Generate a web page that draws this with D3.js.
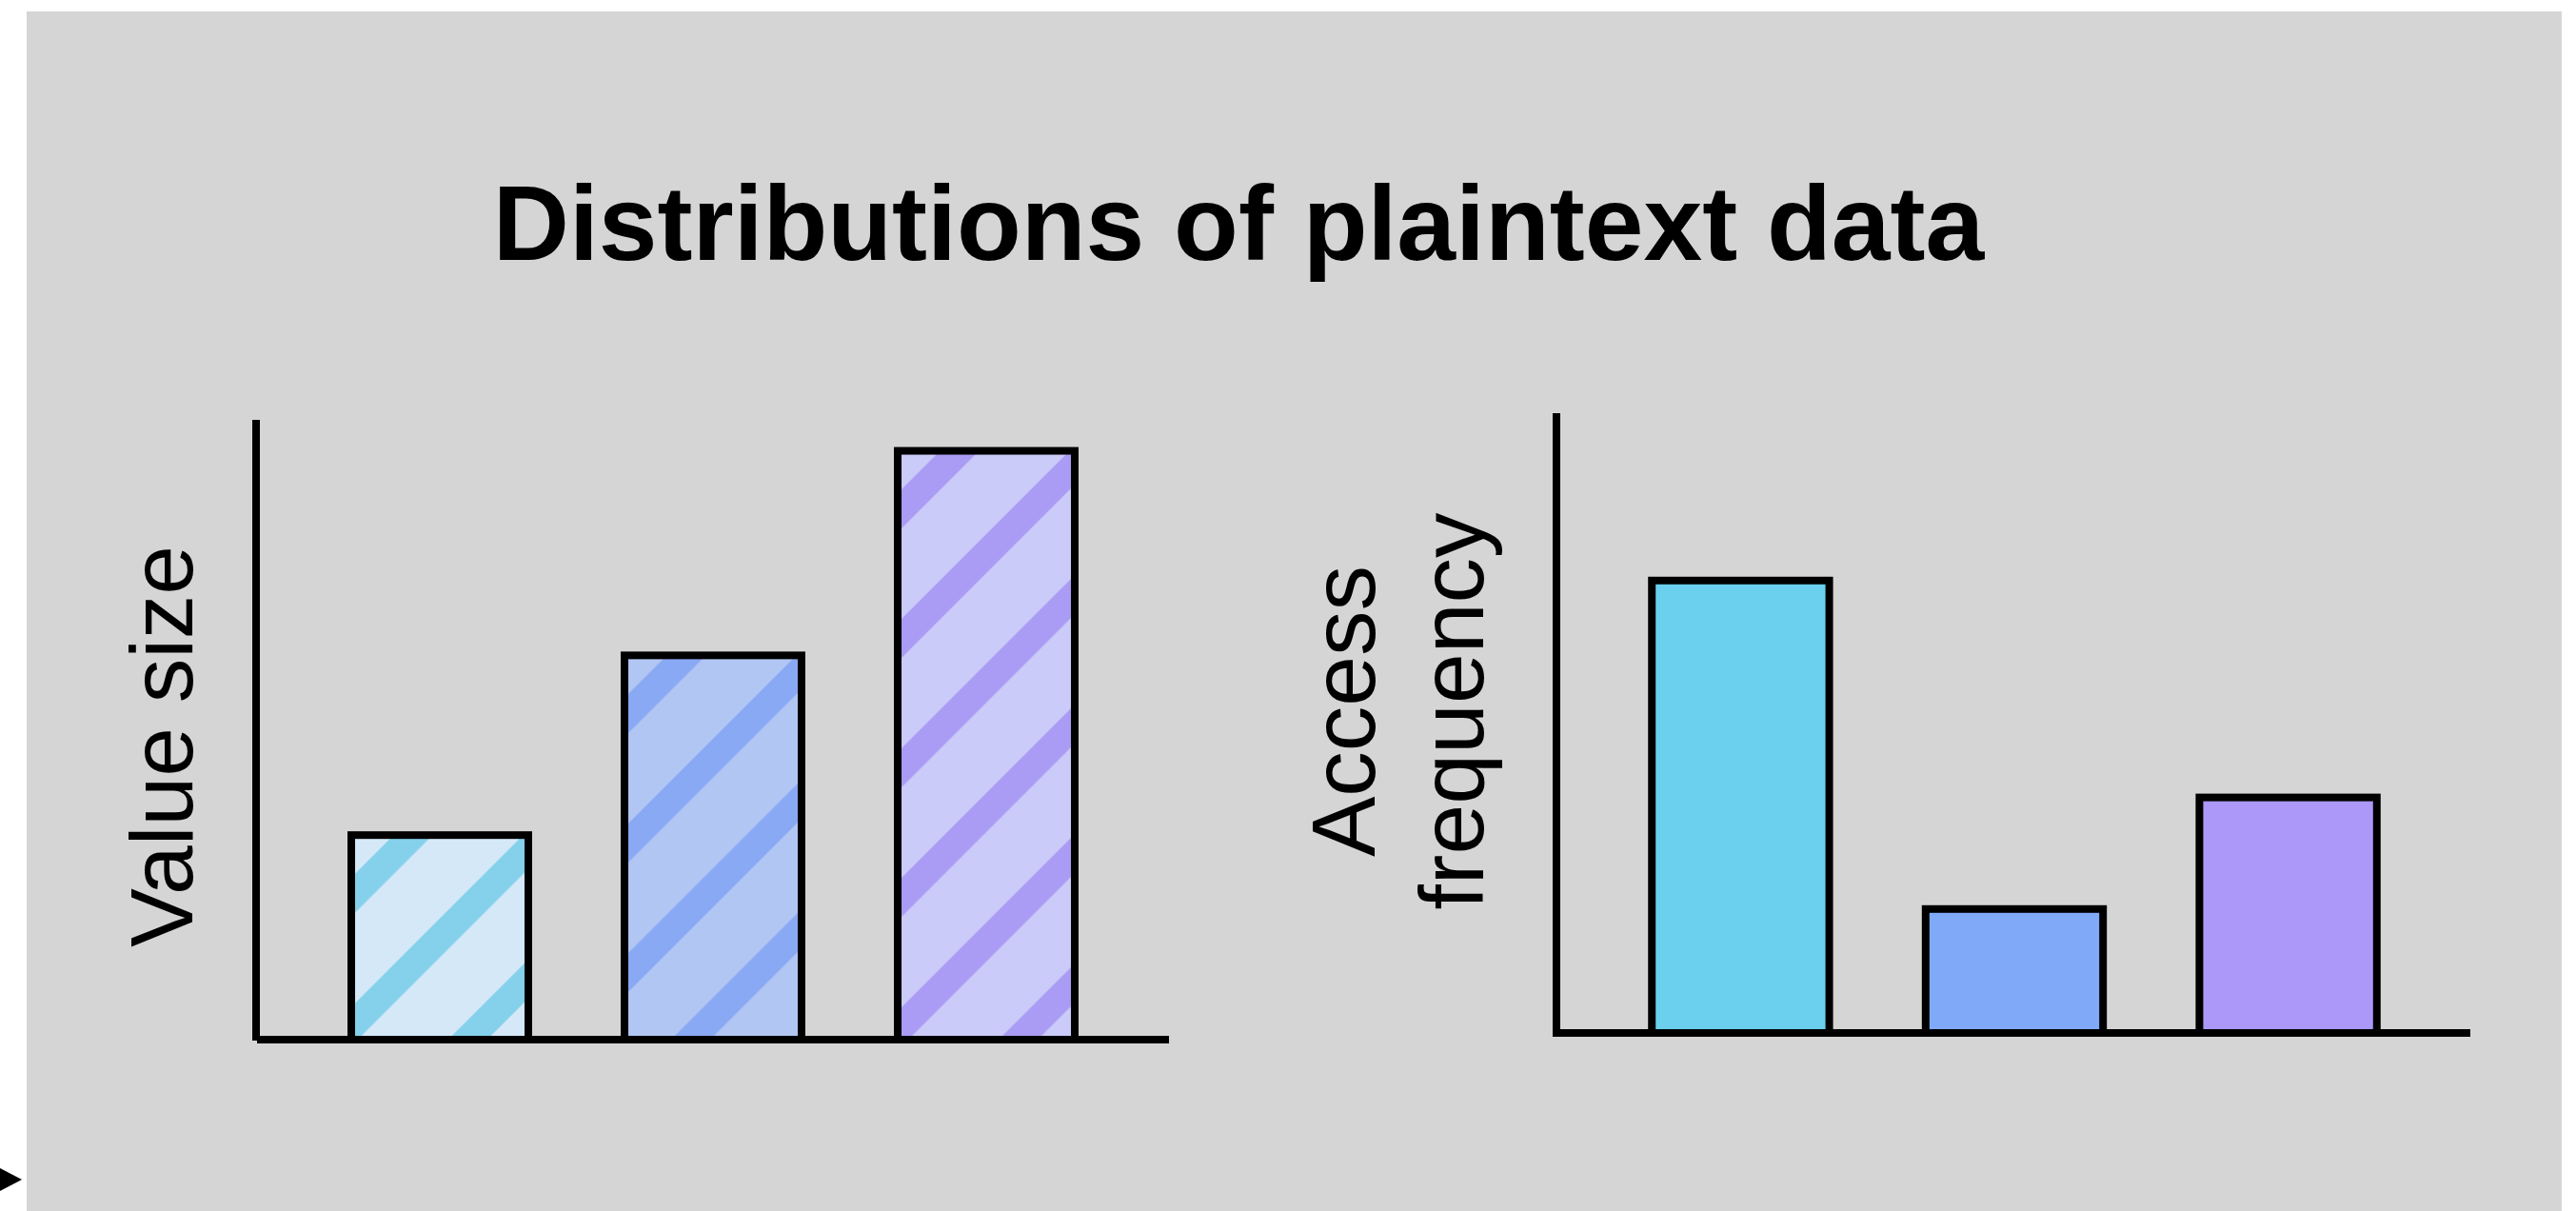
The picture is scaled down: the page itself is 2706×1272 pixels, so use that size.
<!DOCTYPE html>
<html>
<head>
<meta charset="utf-8">
<script src="https://cdn.jsdelivr.net/npm/d3@7"></script>
<style>
  html, body { margin: 0; padding: 0; background: #ffffff; }
  svg { display: block; }
</style>
</head>
<body>
<script>
// Categories and values (relative units, 0–100)
const categories = ["A", "B", "C"];
const valueSize = [33, 62, 95];
const accessFrequency = [73, 20, 38];

// Fill colours
const hatchBase = ["#d5e8f8", "#b2c6f3", "#cbcbf9"];
const hatchStripe = ["#85d1ec", "#8aa9f4", "#aa9bf4"];
const solidFill = ["#6ad0ee", "#80aaf8", "#ab98f8"];

const title = "Distributions of plaintext data";
const leftLabel = ["Value size"];
const rightLabel = ["Access", "frequency"];

const W = 2706, H = 1272;
const svg = d3.select("body").append("svg")
  .attr("width", W).attr("height", H)
  .attr("viewBox", `0 0 ${W} ${H}`);

// Panel background
svg.append("rect")
  .attr("x", 28).attr("y", 12)
  .attr("width", 2663).attr("height", H - 12)
  .attr("fill", "#d5d5d5");

// Small marker at the lower-left edge
svg.append("path")
  .attr("d", "M0,1227 L23,1239 L0,1251 Z")
  .attr("fill", "#000");

// Title
svg.append("text")
  .attr("x", 1301).attr("y", 273)
  .attr("text-anchor", "middle")
  .attr("font-family", "'Liberation Sans', Arial, Helvetica, sans-serif")
  .attr("font-weight", "bold")
  .attr("font-size", 111)
  .attr("fill", "#000")
  .text(title);

const defs = svg.append("defs");
const STROKE = 8;

// Left panel: hatched bars
const xL = d3.scaleBand().domain(categories).range([270, 1228])
  .paddingInner(0.352).paddingOuter(0.345);
const yL = d3.scaleLinear().domain([0, 100]).range([1092, 441]);

// One diagonal-stripe pattern per bar, anchored at the bar's top-left corner
categories.forEach((c, i) => {
  const bx = xL(c), by = yL(valueSize[i]);
  const P = 136;
  const p = defs.append("pattern")
    .attr("id", "hatch" + i)
    .attr("patternUnits", "userSpaceOnUse")
    .attr("x", bx).attr("y", by)
    .attr("width", P).attr("height", P);
  p.append("rect").attr("width", P).attr("height", P).attr("fill", hatchBase[i]);
  [65, 65 + P].forEach(k => {
    p.append("line")
      .attr("x1", -20).attr("y1", k + 20)
      .attr("x2", k + 20).attr("y2", -20)
      .attr("stroke", hatchStripe[i])
      .attr("stroke-width", 29);
  });
});

svg.append("g").selectAll("rect")
  .data(categories)
  .join("rect")
  .attr("x", d => xL(d))
  .attr("y", (d, i) => yL(valueSize[i]))
  .attr("width", xL.bandwidth())
  .attr("height", (d, i) => yL(0) - yL(valueSize[i]))
  .attr("fill", (d, i) => `url(#hatch${i})`)
  .attr("stroke", "#000")
  .attr("stroke-width", STROKE);

// Left axes
svg.append("line")
  .attr("x1", 269).attr("x2", 269)
  .attr("y1", yL.range()[1]).attr("y2", 1093)
  .attr("stroke", "#000").attr("stroke-width", STROKE);
svg.append("line")
  .attr("x1", 270).attr("x2", 1228)
  .attr("y1", yL(0)).attr("y2", yL(0))
  .attr("stroke", "#000").attr("stroke-width", STROKE);

// Right panel: solid bars
const xR = d3.scaleBand().domain(categories).range([1636, 2596])
  .paddingInner(0.352).paddingOuter(0.345);
const yR = d3.scaleLinear().domain([0, 100]).range([1085, 434]);

svg.append("g").selectAll("rect")
  .data(categories)
  .join("rect")
  .attr("x", d => xR(d))
  .attr("y", (d, i) => yR(accessFrequency[i]))
  .attr("width", xR.bandwidth())
  .attr("height", (d, i) => yR(0) - yR(accessFrequency[i]))
  .attr("fill", (d, i) => solidFill[i])
  .attr("stroke", "#000")
  .attr("stroke-width", STROKE);

svg.append("line")
  .attr("x1", 1635).attr("x2", 1635)
  .attr("y1", yR.range()[1]).attr("y2", 1089)
  .attr("stroke", "#000").attr("stroke-width", STROKE);
svg.append("line")
  .attr("x1", 1637).attr("x2", 2595)
  .attr("y1", yR(0)).attr("y2", yR(0))
  .attr("stroke", "#000").attr("stroke-width", STROKE);

// Axis titles (rotated)
const labelFont = "'Liberation Sans', Arial, Helvetica, sans-serif";
svg.append("text")
  .attr("transform", "translate(202,784) rotate(-90)")
  .attr("text-anchor", "middle")
  .attr("font-family", labelFont)
  .attr("font-size", 93)
  .attr("fill", "#000")
  .text(leftLabel[0]);

const rl = svg.append("text")
  .attr("transform", "translate(1444,747) rotate(-90)")
  .attr("text-anchor", "middle")
  .attr("font-family", labelFont)
  .attr("font-size", 95)
  .attr("fill", "#000");
rightLabel.forEach((t, i) => {
  rl.append("tspan").attr("x", 0).attr("dy", i === 0 ? 0 : 114).text(t);
});
</script>
</body>
</html>
